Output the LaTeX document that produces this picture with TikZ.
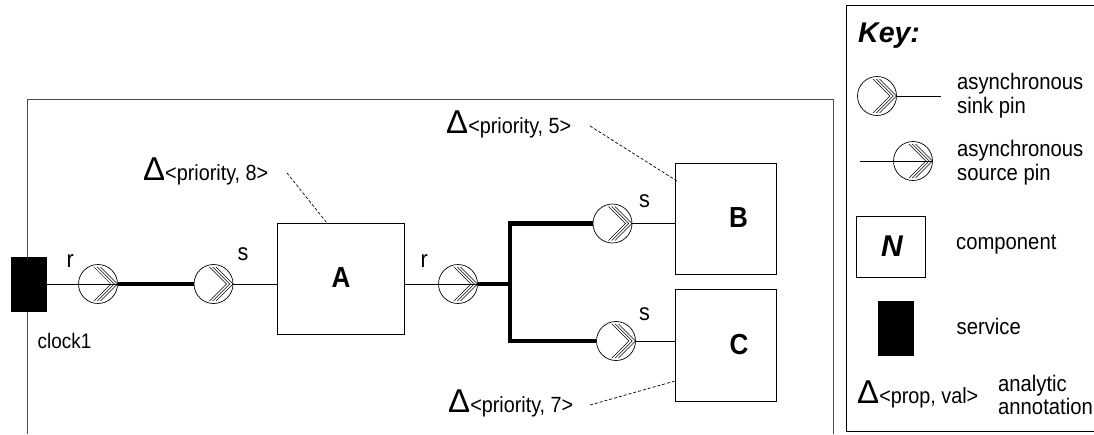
\documentclass[tikz,border=0pt]{standalone}
\usepackage{fontspec}
\setmainfont[FakeStretch=0.9]{Liberation Sans}
\newfontfamily\plainf{Liberation Sans}
\usetikzlibrary{calc}
\newcommand{\fs}[1]{\fontsize{#1}{#1}\selectfont}
\newcommand{\annot}[1]{{\plainf\fs{33}\char"0394}{\fs{22}#1}}
\tikzset{
  x=1pt,y=-1pt,
  every node/.style={font=\fs{22.5},inner sep=0pt},
  pinbase/.style={circle,draw,line width=0.7pt,minimum size=39pt,inner sep=0pt,
    path picture={
      \foreach \d in {0,3.3,6.6}{
        \draw[line width=0.5pt,line join=miter]
          ($(path picture bounding box.center)+(2.5-\d,-17)$) --
          ($(path picture bounding box.center)+(19.5-\d,0)$) --
          ($(path picture bounding box.center)+(2.5-\d,17)$);
      }
    }},
  compbox/.style={rectangle,draw,line width=0.9pt,inner sep=0pt},
  svcbox/.style={rectangle,fill=black,draw=black,inner sep=0pt,minimum width=35pt,minimum height=54pt},
  wire/.style={line width=0.8pt},
  bus/.style={line width=4.6pt},
  note/.style={line width=0.7pt,dash pattern=on 3pt off 2pt},
  frame/.style={line width=1pt},
  lbl/.style={anchor=base west,align=left},
  pinlbl/.style={anchor=base west,font=\fs{24}},
}
\begin{document}
\begin{tikzpicture}
\useasboundingbox (0,0) rectangle (1094,434);
% outer frame
\coordinate (fa) at (27.5,434); \coordinate (fb) at (27.5,99.5);
\coordinate (fc) at (833,99.5); \coordinate (fd) at (833,434);
\draw[frame,draw=black!70] (fa) -- (fb) -- (fc) -- (fd);
% key frame
\coordinate (ka) at (1094,5.5); \coordinate (kb) at (846.5,5.5);
\coordinate (kc) at (846.5,431.5); \coordinate (kd) at (1094,431.5);
\draw[frame] (ka) -- (kb) -- (kc) -- (kd);
% components
\node[compbox,minimum width=127.5pt,minimum height=111pt] (A) at (340.7,279) {};
\node[compbox,minimum width=101pt,minimum height=111pt] (B) at (725.5,218.5) {};
\node[compbox,minimum width=101pt,minimum height=112pt] (C) at (725.5,345) {};
\node[lbl,anchor=base,font=\fs{29}\bfseries] (tA) at (341,287.5) {A};
\node[lbl,anchor=base,font=\fs{29}\bfseries] (tB) at (738.5,227) {B};
\node[lbl,anchor=base,font=\fs{29}\bfseries] (tC) at (739,354.5) {C};
\node[svcbox] (svc) at (28.5,284) {};
% pins
\node[pinbase] (r1) at (98,284) {};
\node[pinbase] (s1) at (213.5,284) {};
\node[pinbase] (r2) at (458,284) {};
\node[pinbase] (sb) at (612.5,223.5) {};
\node[pinbase] (sc) at (616,341) {};
\coordinate (j) at (510,284);
% wires
\draw[wire] (svc.east) -- (r1.east);
\draw[bus] (r1.east) -- (s1.west);
\draw[wire] (s1.east) -- (s1.east-|A.west);
\draw[wire] (A.east|-r2) -- (r2.east);
\draw[bus] (r2.east) -- (j);
\draw[bus,line join=miter] (sb.west) -- (sb.west-|j) -- (sc.west-|j) -- (sc.west);
\draw[wire] (sb.east) -- (sb.east-|B.west);
\draw[wire] (sc.east) -- (sc.east-|C.west);
% labels
\node[pinlbl] (tr1) at (66.5,267) {r};
\node[pinlbl] (ts1) at (237.5,260) {s};
\node[pinlbl] (tr2) at (420.5,267) {r};
\node[pinlbl] (tsb) at (639,207) {s};
\node[pinlbl] (tsc) at (639,320) {s};
\node[lbl,font=\fs{21}] (clk) at (37.5,348) {clock1};
% annotations
\node[lbl] (n8) at (143,180) {\annot{<priority, 8>}};
\node[lbl] (n5) at (446,133) {\annot{<priority, 5>}};
\node[lbl] (n7) at (448,412) {\annot{<priority, 7>}};
\coordinate (n8e) at (287,173); \coordinate (n5e) at (590,126); \coordinate (n7e) at (590,405);
\coordinate (n8t) at (327,223); \coordinate (n5t) at (677,181); \coordinate (n7t) at (675,381);
\draw[note] (n8e) -- (n8t);
\draw[note] (n5e) -- (n5t);
\draw[note] (n7e) -- (n7t);
% key
\node[lbl,font=\plainf\fs{28.5}\bfseries\itshape] (key) at (858,42) {Key:};
\node[pinbase] (ksink) at (877,96) {};
\coordinate (ksinke) at (941,96);
\draw[wire] (ksink.east) -- (ksinke);
\node[pinbase] (ksrc) at (913,161) {};
\coordinate (ksrcs) at (860,161);
\draw[wire] (ksrcs) -- (ksrc.east);
\node[lbl] (t1) at (957,89) {asynchronous};
\node[lbl] (t2) at (957,113) {sink pin};
\node[lbl] (t3) at (957,156) {asynchronous};
\node[lbl] (t4) at (957,180) {source pin};
\node[compbox,minimum width=69pt,minimum height=61pt] (kN) at (890.5,246.5) {};
\node[lbl,anchor=center,font=\plainf\fs{30}\bfseries\itshape] (tN) at (892,246.5) {N};
\node[svcbox] (ksvc) at (895.5,328.5) {};
\node[lbl] (t5) at (956,249) {component};
\node[lbl] (t6) at (956.5,334) {service};
\node[lbl] (t7) at (857,403) {\annot{<prop, val>}};
\node[lbl] (t8) at (998,391) {analytic};
\node[lbl] (t9) at (998,414) {annotation};
\end{tikzpicture}
\end{document}
